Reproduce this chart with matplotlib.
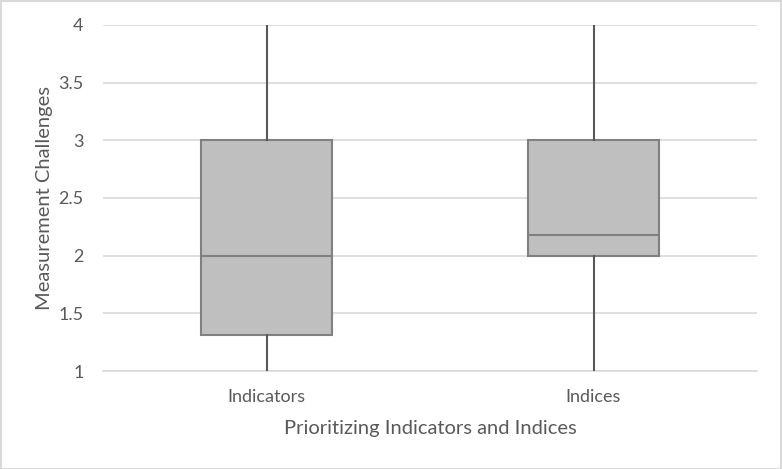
import matplotlib
matplotlib.use("Agg")
import matplotlib.pyplot as plt
from matplotlib.patches import Rectangle

categories = ["Indicators", "Indices"]
mins = [1.0, 1.0]
q1s = [1.31, 2.0]
medians = [2.0, 2.18]
q3s = [3.0, 3.0]
maxs = [4.0, 4.0]
yticks = [1, 1.5, 2, 2.5, 3, 3.5, 4]

plt.rcParams['font.family'] = ['Lato', 'DejaVu Sans']

fig = plt.figure(figsize=(7.82, 4.69), dpi=100)
ax = fig.add_axes([103/782, 1 - 371/469, (757-103)/782, (371-25)/469])

stats = []
for c, lo, a, m, b, hi in zip(categories, mins, q1s, medians, q3s, maxs):
    stats.append(dict(label=c, whislo=lo, q1=a, med=m, q3=b, whishi=hi, fliers=[]))

positions = [0.25, 0.75]
ax.bxp(stats, positions=positions, widths=0.2, patch_artist=True, showcaps=False,
       boxprops=dict(facecolor='#BFBFBF', edgecolor='#808080', linewidth=1.5),
       medianprops=dict(color='#808080', linewidth=1.5),
       whiskerprops=dict(color='#595959', linewidth=1.5), zorder=3)

ax.set_xlim(0, 1)
ax.set_ylim(1, 4)
ax.set_yticks(yticks)
ax.set_yticklabels([f"{t:g}" for t in yticks])
ax.yaxis.grid(True, color='#D9D9D9', linewidth=1.2, zorder=0)
ax.set_axisbelow(True)
for s in ['top', 'right', 'left']:
    ax.spines[s].set_visible(False)
ax.spines['bottom'].set_color('#D9D9D9')
ax.spines['bottom'].set_linewidth(1.2)
ax.tick_params(axis='both', length=0, labelsize=13, colors='#595959')
ax.tick_params(axis='x', pad=13)
ax.tick_params(axis='y', pad=14)
ax.set_xticks(positions)
ax.set_xticklabels(categories)
ax.set_xlabel("Prioritizing Indicators and Indices", fontsize=14.5, color='#595959', labelpad=11)
ax.set_ylabel("Measurement Challenges", fontsize=14.5, color='#595959', labelpad=4)

fig.patches.append(Rectangle((0.5/782, 0.5/469), 1 - 1.5/782, 1 - 1.5/469, transform=fig.transFigure,
                             fill=False, edgecolor='#D9D9D9', linewidth=1.5))

fig.savefig("out.png", dpi=100, facecolor='white')
